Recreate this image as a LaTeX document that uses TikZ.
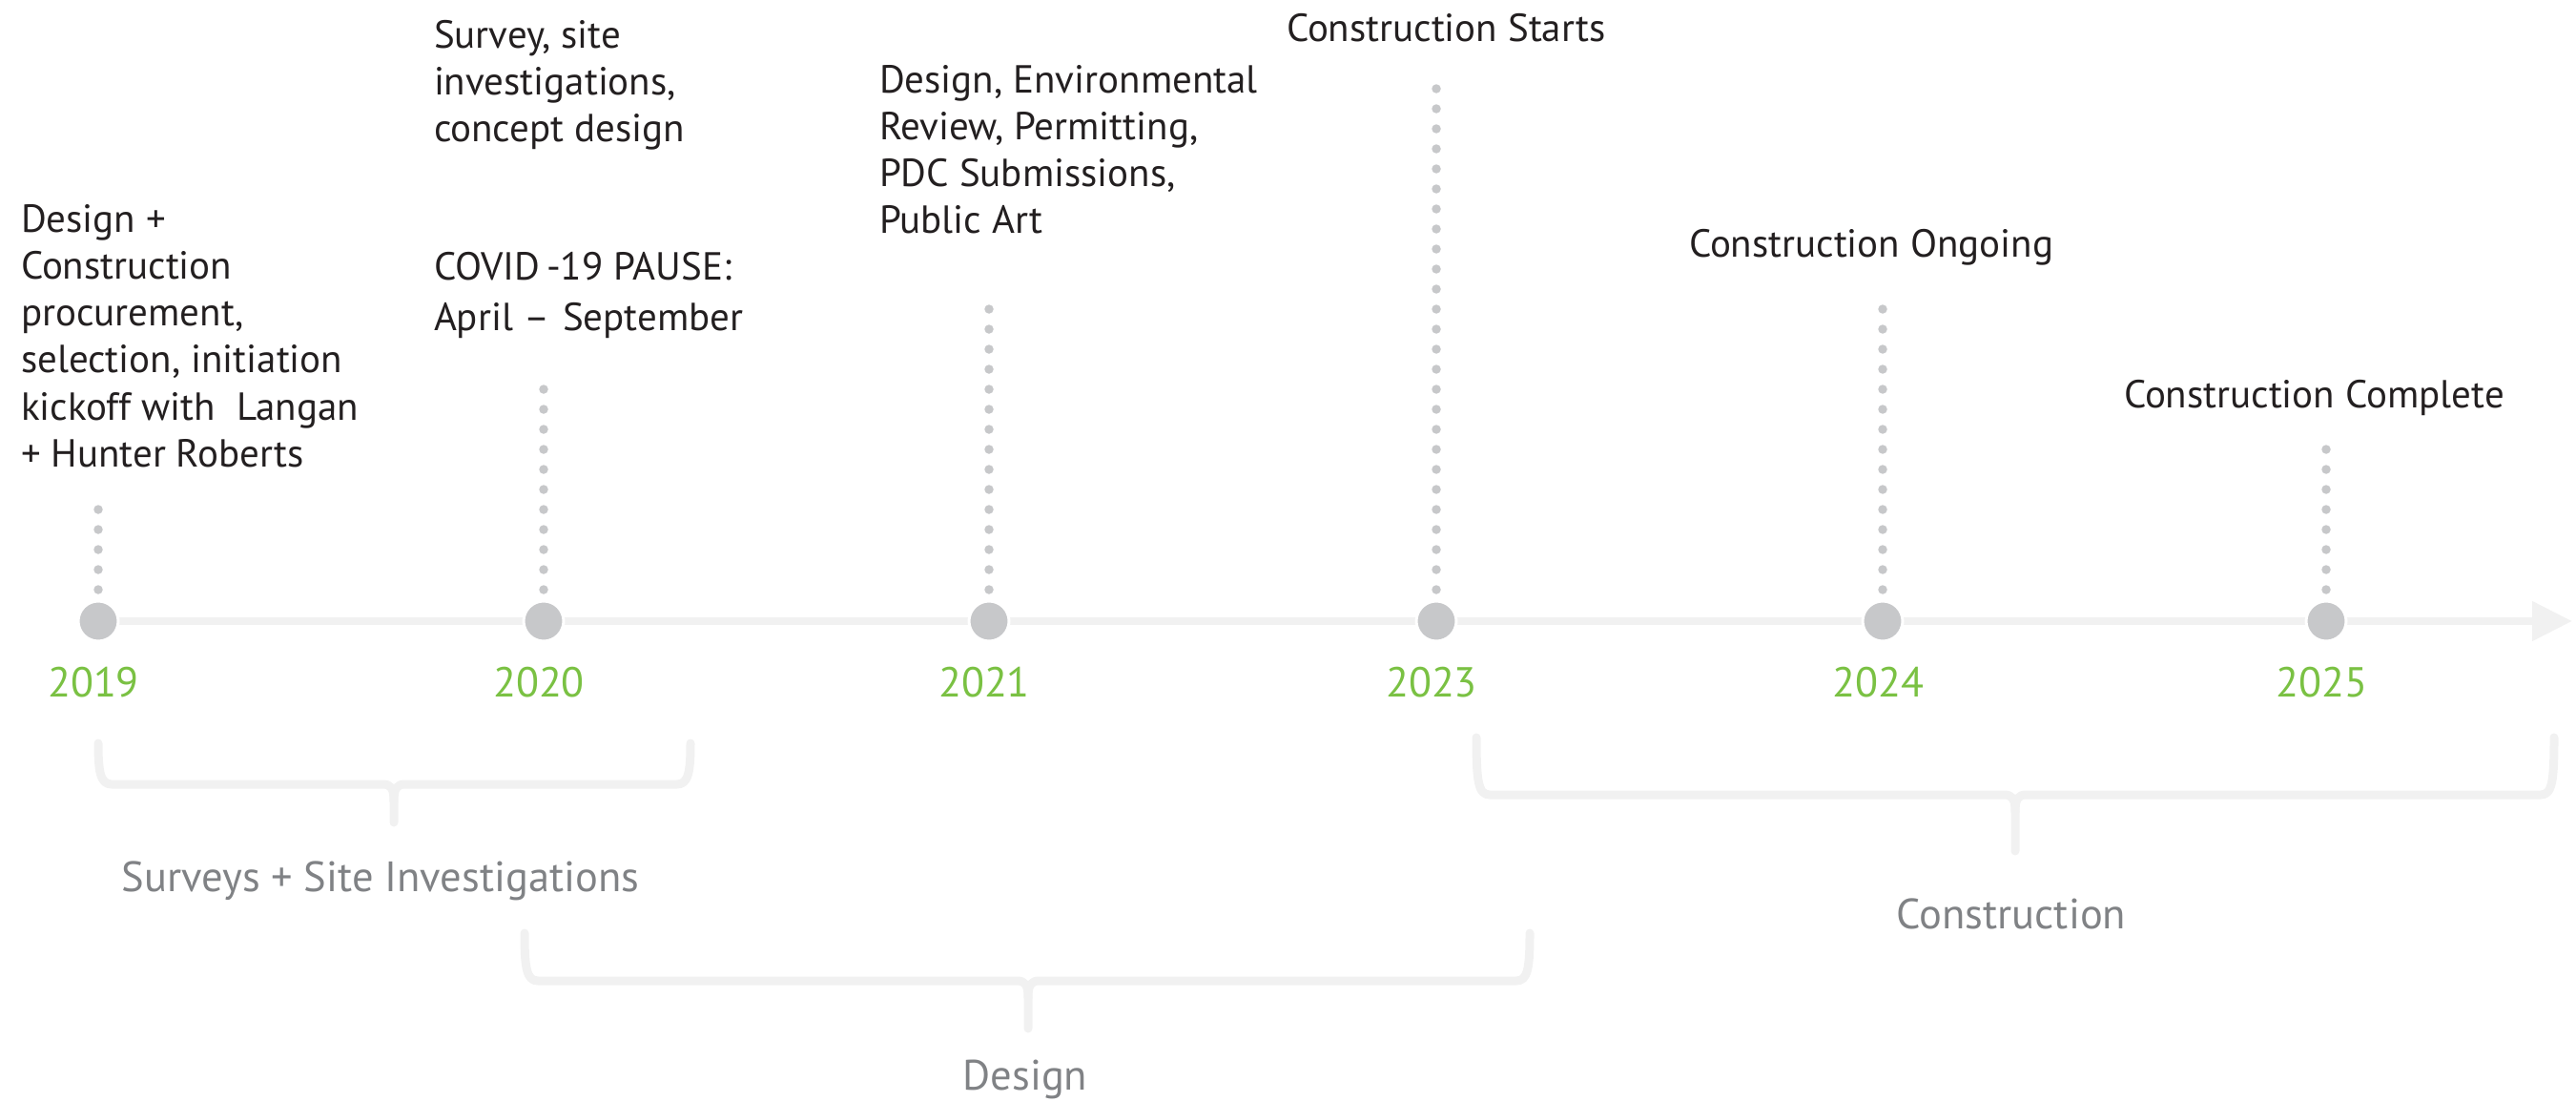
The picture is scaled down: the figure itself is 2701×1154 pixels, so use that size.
\documentclass[tikz,border=0pt]{standalone}
\usepackage{fontspec}
\setmainfont{PT Sans}
\usetikzlibrary{arrows.meta}
\definecolor{axisgray}{HTML}{F1F1F1}
\definecolor{dotgray}{HTML}{C7C8CA}
\definecolor{yeargreen}{HTML}{7AC143}
\definecolor{txtdark}{HTML}{231F20}
\definecolor{labgray}{HTML}{808285}
\newcommand\phasebrace[6]{%
  \draw[brace] (#1,#4) .. controls (#1,{#5-14}) and ({#1+2},#5) .. ({#1+14},#5) -- ({#3-12},#5) .. controls ({#3-3},#5) and (#3,{#5+4}) .. (#3,{#5+18}) -- (#3,#6);
  \draw[brace] (#2,#4) .. controls (#2,{#5-14}) and ({#2-2},#5) .. ({#2-14},#5) -- ({#3+12},#5) .. controls ({#3+3},#5) and (#3,{#5+4}) .. (#3,{#5+18});
}
\begin{document}
\begin{tikzpicture}[x=1pt,y=-1pt,
  every node/.style={inner sep=0pt,outer sep=0pt},
  evtext/.style={font=\fontsize{41}{49.3}\selectfont,text=txtdark,align=left,anchor=north west},
  yearlab/.style={font=\fontsize{44}{50}\selectfont,text=yeargreen},
  phase/.style={font=\fontsize{44.5}{52}\selectfont,text=labgray},
  mile/.style={circle,fill=dotgray,draw=white,line width=3pt,minimum size=42pt},
  axisline/.style={draw=axisgray,line width=8pt,-{Triangle[length=42pt,width=40pt]}},
  brace/.style={draw=axisgray,line width=9pt,line cap=round,line join=round},
  dotline/.style={draw=dotgray,line width=9.5pt,line cap=round,dash pattern=on 0pt off 21pt}]
\useasboundingbox (0,0) rectangle (2701,1154);

% axis
\coordinate (axstart) at (103,651);
\coordinate (axtip) at (2697,651);
\draw[axisline] (axstart) -- (axtip);

% milestones
\node[mile] (m19) at (103,651) {};
\node[mile] (m20) at (570,651) {};
\node[mile] (m21) at (1037,651) {};
\node[mile] (m23) at (1506,651) {};
\node[mile] (m24) at (1974,651) {};
\node[mile] (m25) at (2439,651) {};

% dotted leaders
\coordinate (t19) at (103,533);
\coordinate (t20) at (570,407);
\coordinate (t21) at (1037,323);
\coordinate (t23) at (1506,92);
\coordinate (t24) at (1974,323);
\coordinate (t25) at (2439,470);
\draw[dotline] (m19.north) ++(0,-12) -- (t19);
\draw[dotline] (m20.north) ++(0,-12) -- (t20);
\draw[dotline] (m21.north) ++(0,-12) -- (t21);
\draw[dotline] (m23.north) ++(0,-12) -- (t23);
\draw[dotline] (m24.north) ++(0,-12) -- (t24);
\draw[dotline] (m25.north) ++(0,-12) -- (t25);

% years
\node[yearlab] (y19) at (98,715) {2019};
\node[yearlab] (y20) at (565,715) {2020};
\node[yearlab] (y21) at (1032,715) {2021};
\node[yearlab] (y23) at (1501,715) {2023};
\node[yearlab] (y24) at (1969,715) {2024};
\node[yearlab] (y25) at (2434,715) {2025};

% event texts
\node[evtext] (eA) at (22,214) {Design +\\Construction\\procurement,\\selection, initiation\\kickoff with~ Langan\\+ Hunter Roberts};
\node[evtext] (eB) at (455,21) {Survey, site\\investigations,\\concept design};
\node[evtext] (eC) at (455,264) {COVID\,-19 PAUSE:\\[4pt]April --\hspace{14pt}September};
\node[evtext] (eD) at (922,68) {Design, Environmental\\Review, Permitting,\\PDC Submissions,\\Public Art};
\node[evtext] (eE) at (1349,14) {Construction Starts};
\node[evtext] (eF) at (1771,240) {Construction Ongoing};
\node[evtext] (eG) at (2227,398) {Construction Complete};

% phase braces
\phasebrace{103}{724}{413}{779}{822}{862}
\phasebrace{550}{1604}{1078}{978}{1028}{1078}
\phasebrace{1548}{2678}{2113}{773}{833}{892}

\node[phase] (pS) at (399,923) {Surveys + Site Investigations};
\node[phase] (pD) at (1075,1131) {Design};
\node[phase] (pC) at (2109,958) {Construction};
\end{tikzpicture}
\end{document}
